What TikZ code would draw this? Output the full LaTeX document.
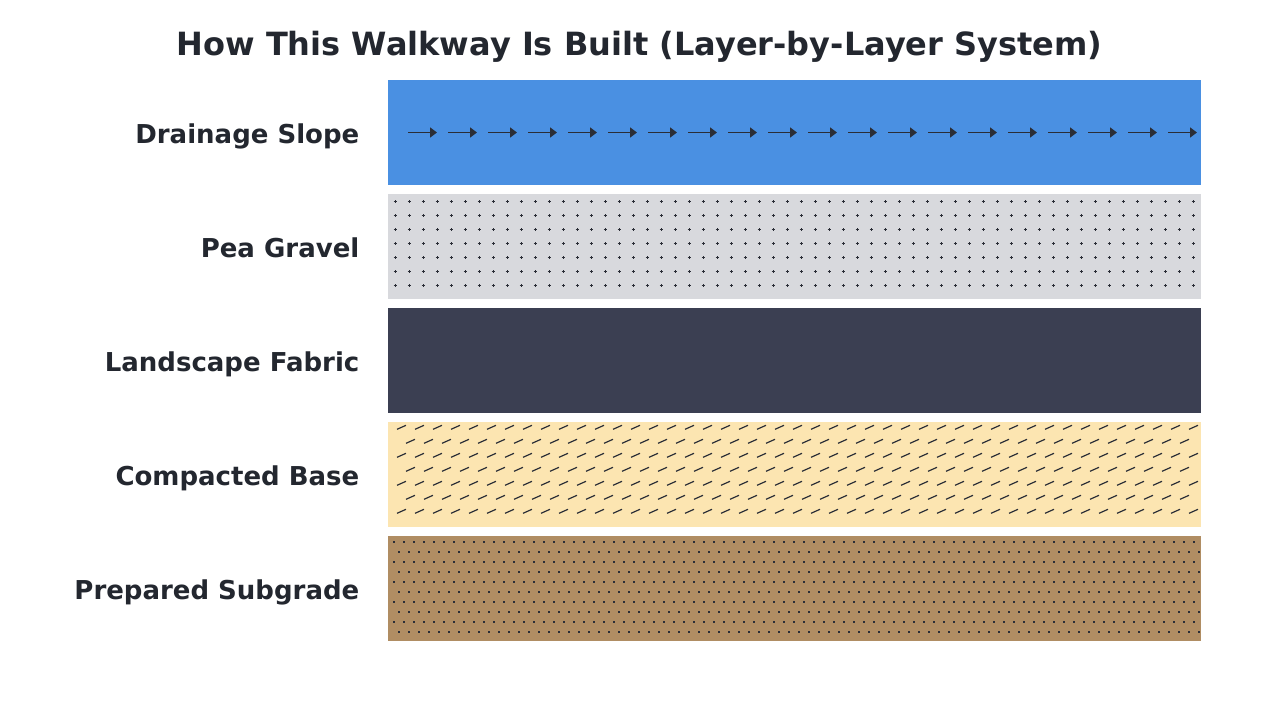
\documentclass[tikz,border=0pt]{standalone}
\usepackage{fontspec}
\setmainfont{DejaVu Sans}
\usetikzlibrary{arrows.meta}
\definecolor{txt}{HTML}{23272F}
\definecolor{ink}{HTML}{2A2D36}
\definecolor{cblue}{HTML}{4A90E2}
\definecolor{cgray}{HTML}{D8D9DD}
\definecolor{cdark}{HTML}{3B3F52}
\definecolor{cyellow}{HTML}{FCE5B1}
\definecolor{cbrown}{HTML}{B08D63}
\tikzset{
  band/.style={rectangle, inner sep=0pt, minimum width=813pt, minimum height=105pt, anchor=north west},
  lbl/.style={anchor=base east, inner sep=0pt, text=txt, font=\fontsize{26}{30}\selectfont\bfseries},
  ttl/.style={anchor=base, inner sep=0pt, text=txt, font=\fontsize{32}{38}\selectfont\bfseries},
  flowarrow/.style={draw=ink, line width=1.6pt, -{Triangle[length=7pt,width=10pt]}},
  glyph/.style={draw=ink, line width=1.2pt},
}
\begin{document}
\begin{tikzpicture}[x=1pt,y=-1pt]
\useasboundingbox[fill=white] (0,0) rectangle (1280,720);
\node[ttl] (title) at (639.5,55) {How This Walkway Is Built (Layer-by-Layer System)};
% bands
\node[band, fill=cblue] (b1) at (388,80) {};
\node[band, fill=cgray] (b2) at (388,194) {};
\node[band, fill=cdark] (b3) at (388,308) {};
\node[band, fill=cyellow] (b4) at (388,422) {};
\node[band, fill=cbrown] (b5) at (388,536) {};
% labels
\node[lbl] (l1) at (359.5,143.3) {Drainage Slope};
\node[lbl] (l2) at (359.5,257.3) {Pea Gravel};
\node[lbl] (l3) at (359.5,371.3) {Landscape Fabric};
\node[lbl] (l4) at (359.5,485.3) {Compacted Base};
\node[lbl] (l5) at (359.5,599.3) {Prepared Subgrade};
% drainage arrows
\foreach \i in {0,...,19}{
  \draw[flowarrow] ({408+40*\i},132.5) -- ({437+40*\i},132.5);
}
% pea gravel plus signs
\foreach \r in {0,...,6}{
  \foreach \c in {0,...,57}{
    \pgfmathsetmacro{\px}{395.3+14*\c}
    \pgfmathsetmacro{\py}{201.7+14*\r}
    \draw[glyph, line width=0.9pt] (\px-1.7,\py) -- (\px+1.7,\py) (\px,\py-1.7) -- (\px,\py+1.7);
  }
}
% compacted base slanted marks
\foreach \r in {0,2,4,6}{
  \foreach \c in {0,...,44}{
    \pgfmathsetmacro{\px}{397+18*\c}
    \pgfmathsetmacro{\py}{427.3+14*\r}
    \draw[glyph] (\px,\py+2) -- (\px+9,\py-2);
  }
}
\foreach \r in {1,3,5}{
  \foreach \c in {0,...,43}{
    \pgfmathsetmacro{\px}{406+18*\c}
    \pgfmathsetmacro{\py}{427.3+14*\r}
    \draw[glyph] (\px,\py+2) -- (\px+9,\py-2);
  }
}
% subgrade dots
\foreach \r in {0,...,9}{
  \pgfmathsetmacro{\off}{mod(\r,2)*5}
  \foreach \c in {0,...,80}{
    \pgfmathsetmacro{\px}{394+\off+10*\c}
    \pgfmathsetmacro{\py}{542+10*\r}
    \fill[ink] (\px-1,\py-1) rectangle (\px+1,\py+1);
  }
}
\end{tikzpicture}
\end{document}
